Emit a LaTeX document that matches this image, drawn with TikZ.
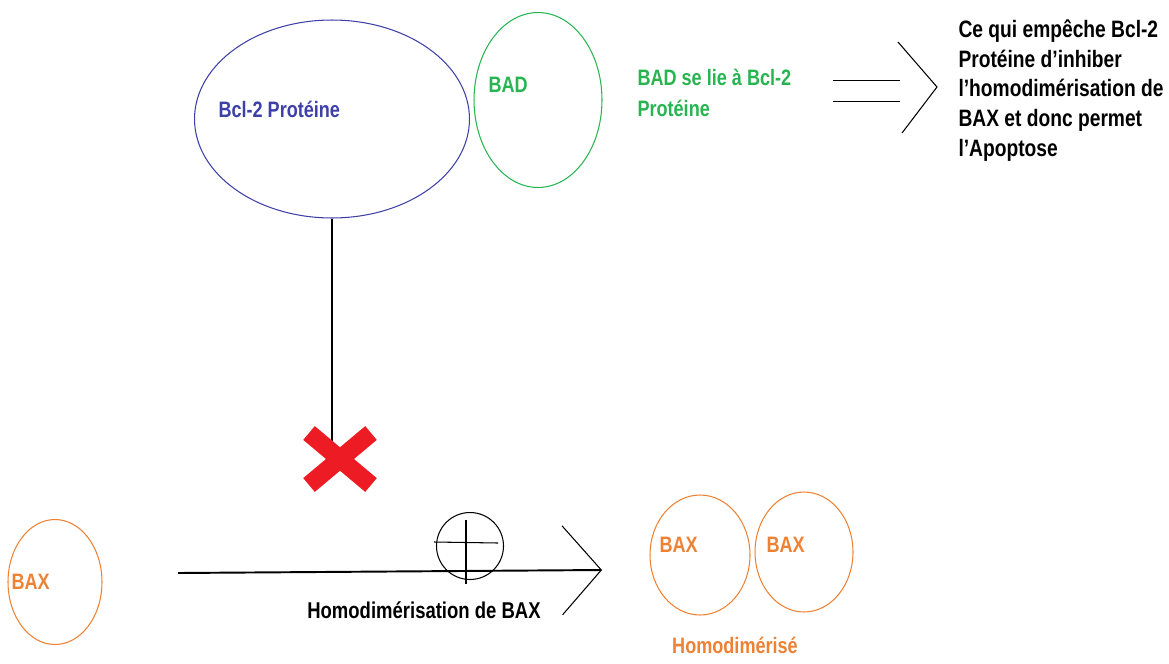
\documentclass[tikz,border=0pt]{standalone}
\usepackage{fontspec}
\setmainfont[FakeStretch=0.81]{Liberation Sans}
\usetikzlibrary{shapes.geometric, arrows.meta, positioning, calc}
\definecolor{paintblue}{RGB}{62,64,168}
\definecolor{paintgreen}{RGB}{40,180,80}
\definecolor{paintorange}{RGB}{238,130,52}
\definecolor{paintred}{RGB}{237,28,36}

\begin{document}
\begin{tikzpicture}[x=0.02cm, y=-0.02cm, font=\bfseries\fontsize{12.7}{17.5}\selectfont, line width=0.6pt,
    blob/.style={draw, ellipse, inner sep=0pt},
    txt/.style={inner sep=0pt, align=left}]
    \useasboundingbox (0,0) rectangle (1169,663);

    \node[blob, paintblue, minimum width=5.5cm, minimum height=3.96cm] (bcl) at (332,119) {};
    \node[txt, paintblue, anchor=west] (bcltext) at (218,109) {Bcl-2 Protéine};
    \node[blob, paintgreen, minimum width=2.56cm, minimum height=3.5cm] (bad) at (538,100) {};
    \node[txt, paintgreen, anchor=west] (badtext) at (488,85) {BAD};
    \node[txt, paintgreen, anchor=west] (bind) at (637,93) {BAD se lie à Bcl-2\\Protéine};
    \node[txt, anchor=north west, font=\bfseries\fontsize{13.5}{17}\selectfont] (result) at (958,19) {Ce qui empêche Bcl-2\\Protéine d'inhiber\\l'homodimérisation de\\BAX et donc permet\\l'Apoptose};

    \coordinate (eqL) at (833,91);
    \coordinate (eqR) at (900,91);
    \coordinate (impl) at (937,87);
    \draw[double, double distance=0.4cm] (eqL) -- (eqR);
    \draw ($(impl)+(-39,-45)$) -- (impl) -- ($(impl)+(-35,46)$);

    \node (cross) at (340,459) {};
    \draw (bcl.south) -- (bcl.south |- cross.center);
    \draw[paintred, line width=0.36cm] ($(cross)+(-31,-26)$) -- ($(cross)+(31,26)$);
    \draw[paintred, line width=0.36cm] ($(cross)+(31,-26)$) -- ($(cross)+(-31,26)$);

    \node[blob, paintorange, minimum width=1.88cm, minimum height=2.5cm] (bax) at (55,582) {};
    \node[txt, paintorange, anchor=west] (baxtext) at (11,582) {BAX};

    \coordinate (start) at (178,573);
    \coordinate (tip) at (602,570);
    \draw[line width=1.1pt, -{Straight Barb[length=0.78cm, width=1.78cm, line width=0.6pt]}] (start) -- (tip);
    \node[draw, circle, minimum size=1.34cm, inner sep=0pt] (plus) at (470,546) {};
    \draw ($(plus)+(-36,-4)$) -- ($(plus)+(28,-3)$);
    \draw ($(plus)+(-4,-26)$) -- ($(plus)+(-4,38)$);
    \node[txt, font=\bfseries\fontsize{13}{17}\selectfont] (homo) at (424,610) {Homodimérisation de BAX};

    \node[blob, paintorange, minimum width=2cm, minimum height=2.4cm] (dimA) at (700,555) {};
    \node[blob, paintorange, minimum width=1.96cm, minimum height=2.4cm] (dimB) at (804,552) {};
    \node[txt, paintorange, anchor=west] (dimAtext) at (659,545) {BAX};
    \node[txt, paintorange, anchor=west] (dimBtext) at (766,545) {BAX};
    \node[txt, paintorange] (dimer) at (735,645) {Homodimérisé};
\end{tikzpicture}
\end{document}
